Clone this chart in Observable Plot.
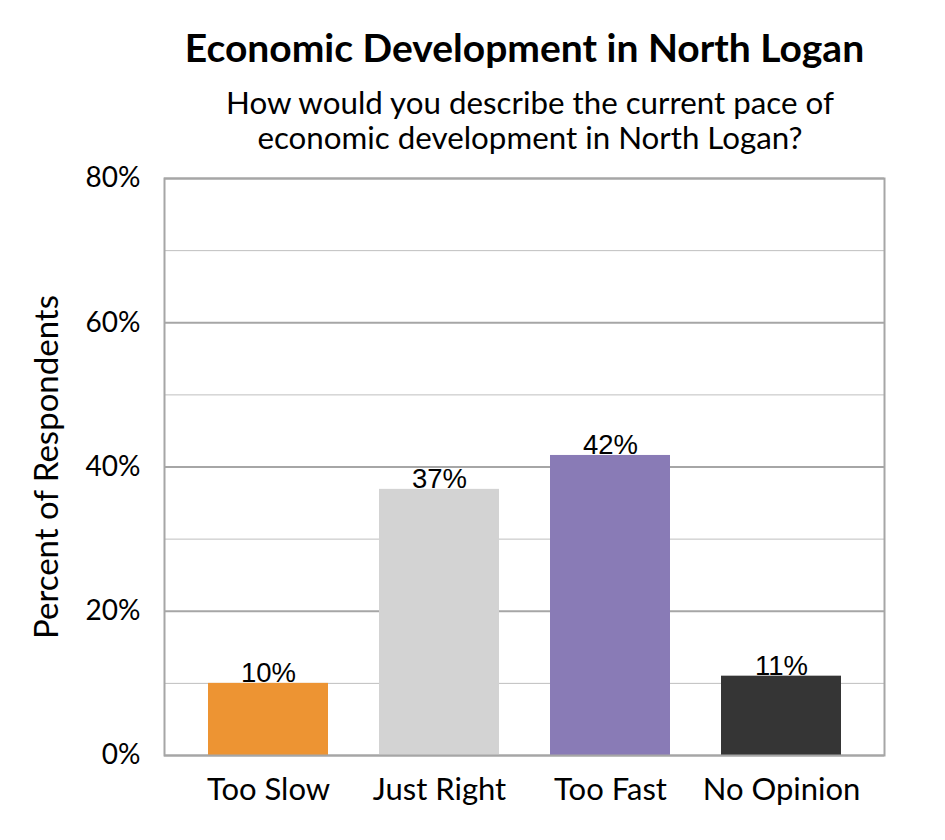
<!DOCTYPE html>
<html>
<head>
<meta charset="utf-8">
<script src="https://cdn.jsdelivr.net/npm/d3@7"></script>
<script src="https://cdn.jsdelivr.net/npm/@observablehq/plot@0.6"></script>
<style>
  html, body { margin: 0; padding: 0; background: #fff; }
  #wrap { width: 945px; height: 840px; position: relative; overflow: hidden; }
  #header { position: relative; height: 140px; z-index: 1; }
  #title { position: absolute; left: 104px; right: 0; top: 28px; text-align: center; white-space: nowrap;
           font-family: Lato, sans-serif; font-weight: bold; font-size: 39px; line-height: 1; color: #000; }
  #subtitle { position: absolute; left: 115px; right: 0; top: 85px; text-align: center; white-space: nowrap;
           font-family: Lato, sans-serif; font-size: 31.3px; line-height: 35px; color: #000; }
  svg { display: block; }
</style>
</head>
<body>
<div id="wrap">
  <div id="header">
    <div id="title">Economic Development in North Logan</div>
    <div id="subtitle">How would you describe the current pace of<br>economic development in North Logan?</div>
  </div>
  <div id="chart"></div>
</div>
<script>
const categories = ["Too Slow", "Just Right", "Too Fast", "No Opinion"];
const values = [10, 36.9, 41.6, 11];
const colors = ["#ED9433", "#D3D3D3", "#897BB6", "#353535"];
const majorTicks = [0, 20, 40, 60, 80];
const minorTicks = [10, 30, 50, 70];
const yLabel = "Percent of Respondents";

const data = categories.map((c, i) => ({category: c, value: values[i], color: colors[i]}));

const chart = Plot.plot({
  width: 945,
  height: 700,
  marginLeft: 164,
  marginRight: 61,
  marginTop: 38,
  marginBottom: 85,
  style: {fontFamily: "Lato, sans-serif", background: "transparent", color: "#000"},
  x: {domain: categories, paddingInner: 0.3, paddingOuter: 0.245},
  y: {domain: [0, 80]},
  marks: [
    Plot.ruleY(minorTicks, {stroke: "#bfbfbf", strokeWidth: 1}),
    Plot.ruleY(majorTicks, {stroke: "#a6a6a6", strokeWidth: 2}),
    Plot.barY(data, {x: "category", y: "value", fill: "color"}),
    Plot.frame({stroke: "#a6a6a6", strokeWidth: 2}),
    Plot.text(data, {x: "category", y: "value", text: d => Math.round(d.value) + "%", lineAnchor: "bottom", dy: -1,
      fontFamily: "'Liberation Sans', Arial, sans-serif", fontSize: 27.5, fill: "#000"}),
    Plot.axisY(majorTicks, {tickSize: 0, tickPadding: 24, fontSize: 28, tickFormat: d => d + "%", label: null}),
    Plot.axisX({tickSize: 0, tickPadding: 22, fontSize: 31, label: null}),
    Plot.text([yLabel], {frameAnchor: "left", text: d => d, rotate: -90, dx: -117, textAnchor: "middle", fontSize: 33, fill: "#000"})
  ]
});
document.getElementById("chart").appendChild(chart);
</script>
</body>
</html>
